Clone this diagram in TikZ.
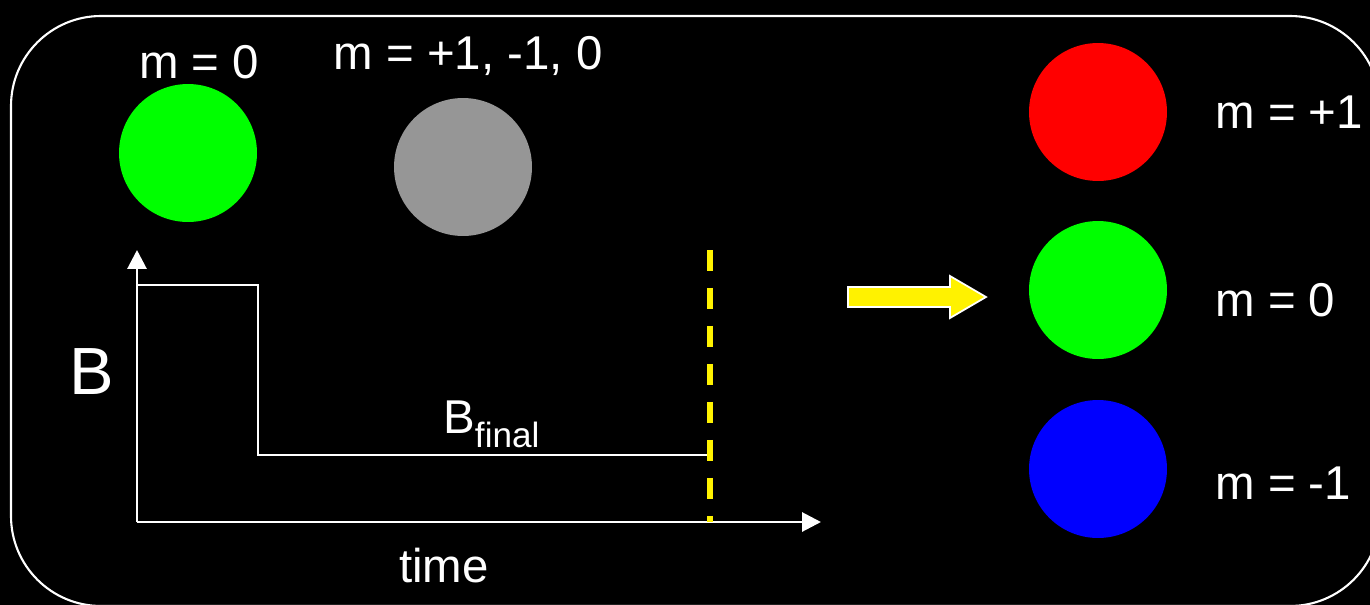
\documentclass[tikz,border=0pt]{standalone}
\usepackage{fontspec}
\setmainfont{Liberation Sans}
\usetikzlibrary{arrows.meta,positioning}

\begin{document}
\begin{tikzpicture}[x=0.02cm, y=-0.02cm,
    dot/.style={circle, minimum size=2.76cm, inner sep=0pt},
    lbl/.style={text=white, font=\fontsize{27}{32}\selectfont, inner sep=0pt},
    axis/.style={draw=white, line width=1.7pt, -{Triangle[length=3.8mm, width=3.8mm]}},
    curve/.style={draw=white, line width=0.9pt},
  ]
  \fill[black] (0,0) rectangle (1370,605);
  \useasboundingbox (0,0) rectangle (1370,605);
  \begin{scope}
    \clip (0,0) rectangle (1370,605);
    \draw[white, line width=1.2pt, rounded corners=1.8cm] (11,16) rectangle (1380,606);
  \end{scope}

  % spin states before and after
  \node[dot, fill={rgb,255:red,0;green,255;blue,0}]     (g0)  at (188,153) {};
  \node[dot, fill={rgb,255:red,150;green,150;blue,150}] (mix) at (463,167) {};
  \node[dot, fill={rgb,255:red,255;green,0;blue,0}]     (rp)  at (1098,112) {};
  \node[dot, fill={rgb,255:red,0;green,255;blue,0}]     (r0)  at (1098,290) {};
  \node[dot, fill={rgb,255:red,0;green,0;blue,255}]     (rm)  at (1098,469) {};

  \node[lbl] (lg0)  at (199,62)  {m = 0};
  \node[lbl] (lmix) at (468,56)  {m = +1, -1, 0};
  \node[lbl, anchor=west] (lrp) at (1215,112) {m = +1};
  \node[lbl, anchor=west] (lr0) at (1215,300) {m = 0};
  \node[lbl, anchor=west] (lrm) at (1215,483) {m = -1};

  % field ramp
  \coordinate (o)  at (137,522);
  \coordinate (yt) at (137,250);
  \coordinate (xt) at (821,522);
  \draw[axis] (o) -- (yt);
  \draw[axis] (o) -- (xt);
  \coordinate (s0) at (137,285);
  \coordinate (s1) at (258,285);
  \coordinate (s2) at (258,455);
  \coordinate (s3) at (710,455);
  \draw[curve] (s0) -- (s1) -- (s2) -- (s3);

  \coordinate (ct) at (710,250);
  \coordinate (cb) at (710,522);
  \draw[yellow, line width=3pt, dash pattern=on 0.42cm off 0.34cm] (ct) -- (cb);

  \node[text=white, font=\fontsize{38}{44}\selectfont, inner sep=0pt] (lB) at (92,372) {B};
  \node[lbl] (lt) at (444,566) {time};
  \node[lbl, anchor=base west] (lBf) at (443,433) {B\raisebox{-0.3em}{\fontsize{20}{24}\selectfont final}};

  % yellow block arrow
  \fill[yellow, draw=white, line width=1pt]
    (848,287) -- (950,287) -- (950,276) -- (986,297) -- (950,318) -- (950,307) -- (848,307) -- cycle;
\end{tikzpicture}
\end{document}
